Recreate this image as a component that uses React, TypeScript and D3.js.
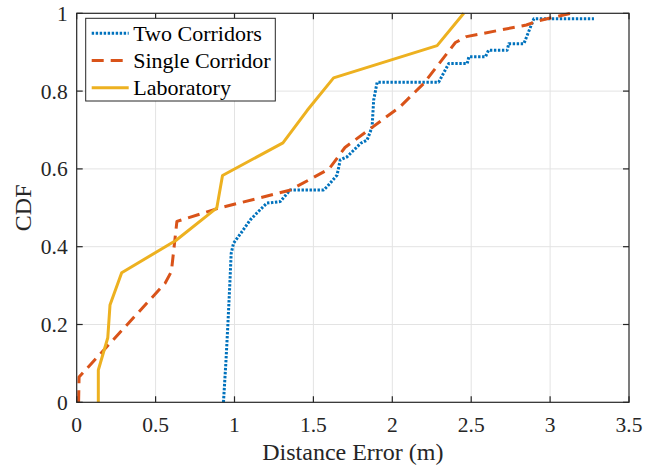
import { useRef, useEffect } from 'react';
import * as d3 from 'd3';

/* ── CDF samples (distance error in m, cumulative prob.) ── */
const twoCorridorsX = [0.93, 0.945, 0.958, 0.97, 0.979, 0.994, 1.05, 1.1, 1.15, 1.205, 1.29, 1.353, 1.565, 1.586, 1.65, 1.67, 1.713, 1.8, 1.84, 1.872, 1.882, 1.904, 2.294, 2.358, 2.475, 2.485, 2.59, 2.61, 2.728, 2.738, 2.834, 2.877, 2.897, 3.278];
const twoCorridorsY = [0, 0.1, 0.2, 0.3, 0.383, 0.409, 0.44, 0.469, 0.49, 0.512, 0.516, 0.546, 0.546, 0.554, 0.584, 0.623, 0.631, 0.666, 0.674, 0.708, 0.777, 0.823, 0.823, 0.871, 0.871, 0.888, 0.888, 0.905, 0.905, 0.922, 0.922, 0.966, 0.986, 0.986];

const singleCorridorX = [0.012, 0.015, 0.56, 0.6, 0.635, 0.89, 1.35, 1.6, 1.7, 1.85, 2.05, 2.2, 2.4, 2.47, 2.85, 2.92, 3.13];
const singleCorridorY = [0, 0.065, 0.306, 0.336, 0.465, 0.498, 0.545, 0.6, 0.655, 0.7, 0.76, 0.82, 0.925, 0.94, 0.97, 0.98, 1.0];

const laboratoryX = [0.137, 0.137, 0.197, 0.211, 0.285, 0.628, 0.888, 0.924, 1.307, 1.46, 1.628, 2.284, 2.453];
const laboratoryY = [0, 0.083, 0.166, 0.25, 0.333, 0.416, 0.5, 0.583, 0.667, 0.75, 0.834, 0.917, 1.0];

const xTicks = [0, 0.5, 1, 1.5, 2, 2.5, 3, 3.5];
const yTicks = [0, 0.2, 0.4, 0.6, 0.8, 1];

const seriesNames = ["Two Corridors", "Single Corridor", "Laboratory"];
const seriesColors = ["#0072BD", "#D95319", "#EDB120"];
const seriesDash = ["2.4 1.6", "12 7", null];

const FONT = "'Liberation Serif', 'Times New Roman', serif";

function CdfChart() {
  const svgRef = useRef<SVGSVGElement>(null);

  useEffect(() => {
    document.body.style.margin = "0";
    const svg = d3.select(svgRef.current);
    svg.selectAll("*").remove();

    const W = 654, H = 468;
    const margin = { top: 13.3, right: 25, bottom: 65.7, left: 76.7 };
    const width = W - margin.left - margin.right;
    const height = H - margin.top - margin.bottom;

    svg.attr("width", W).attr("height", H).style("display", "block");
    svg.append("rect").attr("width", W).attr("height", H).attr("fill", "#fff");

    const g = svg.append("g")
      .attr("transform", `translate(${margin.left},${margin.top})`);

    const x = d3.scaleLinear().domain([0, 3.5]).range([0, width]);
    const y = d3.scaleLinear().domain([0, 1]).range([height, 0]);

    // grid
    g.append("g").selectAll("line")
      .data(xTicks.slice(1, -1)).enter().append("line")
      .attr("x1", d => x(d)).attr("x2", d => x(d))
      .attr("y1", 0).attr("y2", height)
      .attr("stroke", "#e3e3e3").attr("stroke-width", 1);
    g.append("g").selectAll("line")
      .data(yTicks.slice(1, -1)).enter().append("line")
      .attr("y1", d => y(d)).attr("y2", d => y(d))
      .attr("x1", 0).attr("x2", width)
      .attr("stroke", "#e3e3e3").attr("stroke-width", 1);

    // series
    const line = d3.line<[number, number]>()
      .x(d => x(d[0])).y(d => y(d[1]));

    const series = [
      d3.zip(twoCorridorsX, twoCorridorsY),
      d3.zip(singleCorridorX, singleCorridorY),
      d3.zip(laboratoryX, laboratoryY),
    ] as [number, number][][];

    series.forEach((pts, i) => {
      const p = g.append("path")
        .attr("d", line(pts))
        .attr("fill", "none")
        .attr("stroke", seriesColors[i])
        .attr("stroke-width", 3)
        .attr("stroke-linejoin", "round");
      if (seriesDash[i]) p.attr("stroke-dasharray", seriesDash[i]);
    });

    // box + inward ticks
    const axisColor = "#262626";
    g.append("rect")
      .attr("width", width).attr("height", height)
      .attr("fill", "none").attr("stroke", axisColor).attr("stroke-width", 1.2);

    const tk = 6;
    xTicks.forEach(t => {
      g.append("line").attr("x1", x(t)).attr("x2", x(t)).attr("y1", height).attr("y2", height - tk)
        .attr("stroke", axisColor).attr("stroke-width", 1.2);
      g.append("line").attr("x1", x(t)).attr("x2", x(t)).attr("y1", 0).attr("y2", tk)
        .attr("stroke", axisColor).attr("stroke-width", 1.2);
      g.append("text")
        .attr("x", x(t)).attr("y", height + 29.5)
        .attr("text-anchor", "middle")
        .style("font-family", FONT).style("font-size", "21.5px").style("fill", axisColor)
        .text(d3.format("~g")(t));
    });
    yTicks.forEach(t => {
      g.append("line").attr("x1", 0).attr("x2", tk).attr("y1", y(t)).attr("y2", y(t))
        .attr("stroke", axisColor).attr("stroke-width", 1.2);
      g.append("line").attr("x1", width).attr("x2", width - tk).attr("y1", y(t)).attr("y2", y(t))
        .attr("stroke", axisColor).attr("stroke-width", 1.2);
      g.append("text")
        .attr("x", -9).attr("y", y(t) + 7.5)
        .attr("text-anchor", "end")
        .style("font-family", FONT).style("font-size", "21.5px").style("fill", axisColor)
        .text(d3.format("~g")(t));
    });

    // axis labels
    g.append("text")
      .attr("x", width / 2).attr("y", height + 58)
      .attr("text-anchor", "middle")
      .style("font-family", FONT).style("font-size", "24px").style("fill", axisColor)
      .text("Distance Error (m)");
    g.append("text")
      .attr("transform", "rotate(-90)")
      .attr("x", -height / 2).attr("y", -46)
      .attr("text-anchor", "middle")
      .style("font-family", FONT).style("font-size", "24px").style("fill", axisColor)
      .text("CDF");

    // legend
    const legend = svg.append("g").attr("transform", "translate(85.7,18.3)");
    legend.append("rect")
      .attr("width", 189.6).attr("height", 82.7)
      .attr("fill", "#fff").attr("stroke", axisColor).attr("stroke-width", 1);
    seriesNames.forEach((name, i) => {
      const cy = 15 + i * 27.2;
      const l = legend.append("line")
        .attr("x1", 6).attr("x2", 43).attr("y1", cy).attr("y2", cy)
        .attr("stroke", seriesColors[i]).attr("stroke-width", 3);
      if (seriesDash[i]) l.attr("stroke-dasharray", seriesDash[i]);
      legend.append("text")
        .attr("x", 47.5).attr("y", cy + 7.5)
        .style("font-family", FONT).style("font-size", "22px").style("fill", "#000")
        .text(name);
    });
  }, []);

  return <svg ref={svgRef}></svg>;
}

export default function App() {
  return <CdfChart />;
}
